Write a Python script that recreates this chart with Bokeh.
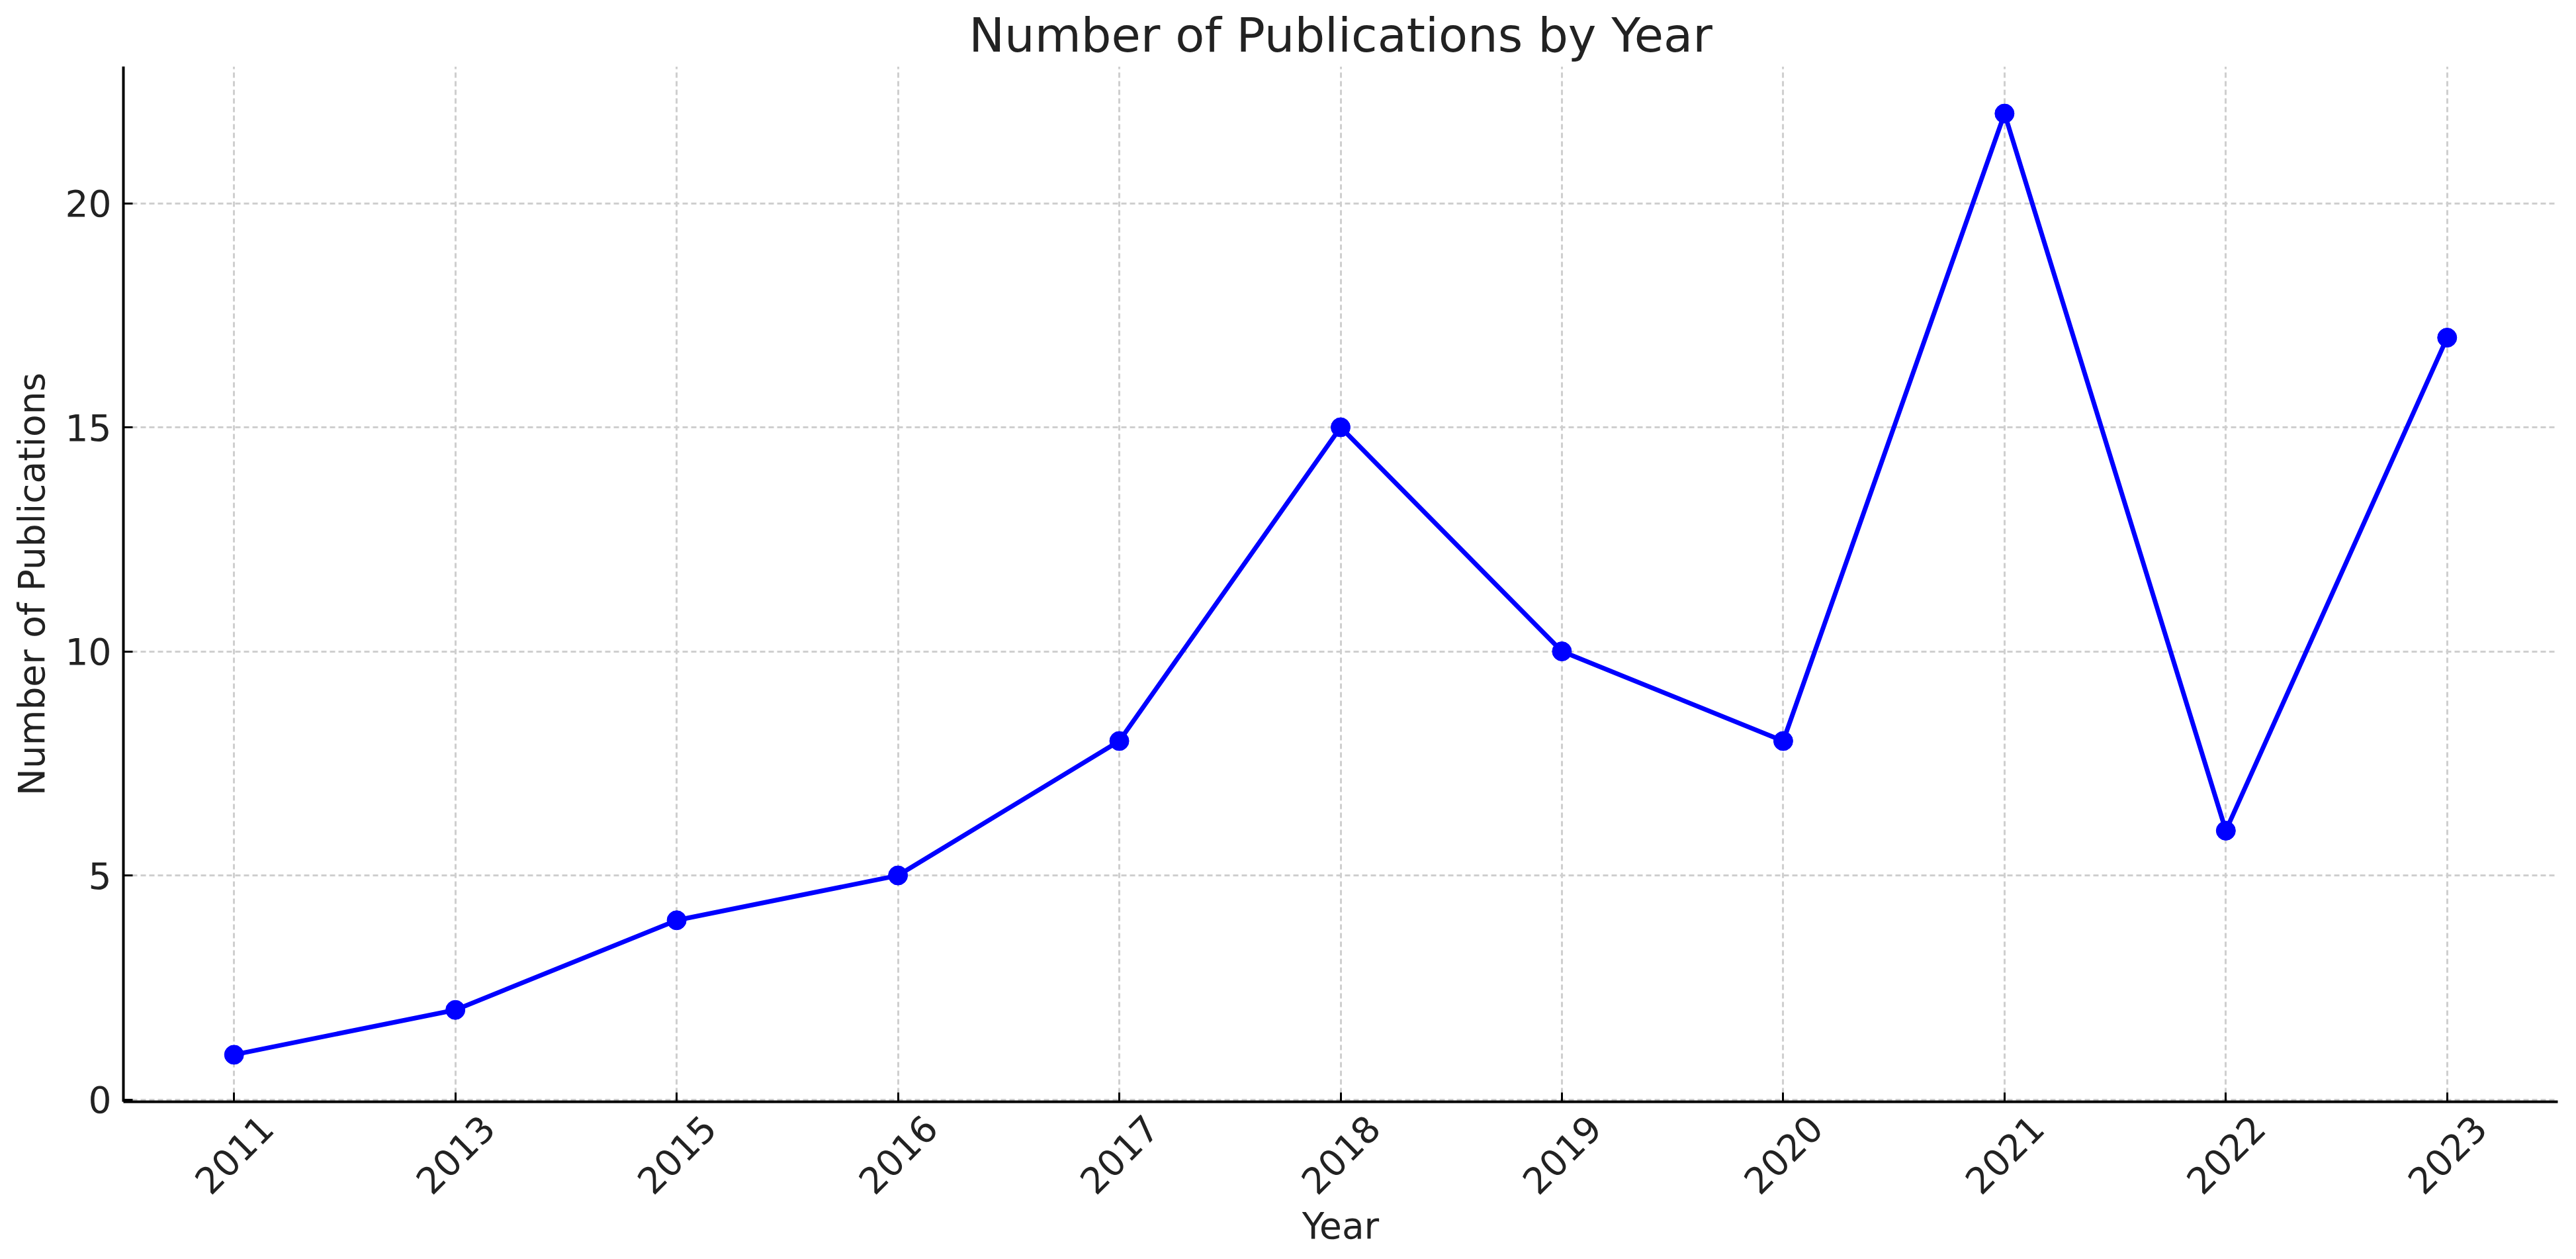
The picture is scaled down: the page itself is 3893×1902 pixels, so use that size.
from bokeh.plotting import figure
from bokeh.models import (ColumnDataSource, Range1d, FixedTicker,
                          LinearAxis, CustomJSTickFormatter)
from bokeh.embed import file_html
from bokeh.resources import INLINE

years = ["2011", "2013", "2015", "2016", "2017", "2018",
         "2019", "2020", "2021", "2022", "2023"]
publications = [1, 2, 4, 5, 8, 15, 10, 8, 22, 6, 17]
y_ticks = [0, 5, 10, 15, 20]

FONT = "DejaVu Sans"
TEXT = "#222222"
GRID = "#cfcfcf"


def main():
    pos = list(range(len(years)))  # years are evenly spaced categories
    src = ColumnDataSource(dict(pos=pos, year=years, count=publications))

    p = figure(width=3877, height=1886,
               x_range=Range1d(-0.5, len(years) - 0.5),
               y_range=Range1d(-0.05, 23.05),
               title="Number of Publications by Year",
               output_backend="svg", toolbar_location=None,
               min_border_left=186, min_border_right=12,
               min_border_top=100, min_border_bottom=220)
    p.outline_line_color = None
    p.background_fill_color = "white"
    p.border_fill_color = "white"

    p.title.text_font = FONT
    p.title.text_font_size = "72px"
    p.title.text_font_style = "normal"
    p.title.text_color = TEXT
    p.title.align = "center"
    p.title.standoff = 12

    # main x axis: spine and inward ticks only, its labels are not drawn
    xa = p.xaxis[0]
    xa.ticker = FixedTicker(ticks=pos)
    xa.minor_tick_line_color = None
    xa.axis_line_width = 4
    xa.axis_line_color = "black"
    xa.major_tick_in = 14
    xa.major_tick_out = 0
    xa.major_tick_line_width = 3
    xa.major_label_text_font_size = "1px"
    xa.major_label_text_color = None
    xa.major_label_standoff = 0

    # label axis, shifted so that the rotated years sit centred under each tick
    shift = 0.148
    p.extra_x_ranges["labels"] = Range1d(-0.5 - shift, len(years) - 0.5 - shift)
    lab = LinearAxis(x_range_name="labels",
                     ticker=FixedTicker(ticks=pos),
                     formatter=CustomJSTickFormatter(args=dict(years=years),
                                                     code="return years[Math.round(tick)]"),
                     axis_line_color=None, major_tick_line_color=None,
                     minor_tick_line_color=None,
                     major_label_orientation=0.7853981634,
                     major_label_standoff=24,
                     major_label_text_font=FONT,
                     major_label_text_font_size="55px",
                     major_label_text_color=TEXT,
                     axis_label="Year",
                     axis_label_standoff=-5,
                     axis_label_text_font=FONT,
                     axis_label_text_font_size="55px",
                     axis_label_text_font_style="normal",
                     axis_label_text_color=TEXT)
    p.add_layout(lab, "below")

    ya = p.yaxis[0]
    ya.ticker = FixedTicker(ticks=y_ticks)
    ya.axis_line_width = 4
    ya.axis_line_color = "black"
    ya.major_tick_in = 14
    ya.major_tick_out = 0
    ya.major_tick_line_width = 3
    ya.minor_tick_line_color = None
    ya.major_label_standoff = 18
    ya.major_label_text_font = FONT
    ya.major_label_text_font_size = "55px"
    ya.major_label_text_color = TEXT
    ya.axis_label = "Number of Publications"
    ya.axis_label_standoff = 16
    ya.axis_label_text_font = FONT
    ya.axis_label_text_font_size = "55px"
    ya.axis_label_text_font_style = "normal"
    ya.axis_label_text_color = TEXT

    for g in (p.xgrid, p.ygrid):
        g.grid_line_color = GRID
        g.grid_line_width = 3
        g.grid_line_dash = "8 5"

    p.line("pos", "count", source=src, line_color="blue", line_width=7)
    p.scatter("pos", "count", source=src, size=29, fill_color="blue",
              line_color="blue")

    open("out.html", "w").write(file_html(p, INLINE))


if __name__ == "__main__":
    main()
